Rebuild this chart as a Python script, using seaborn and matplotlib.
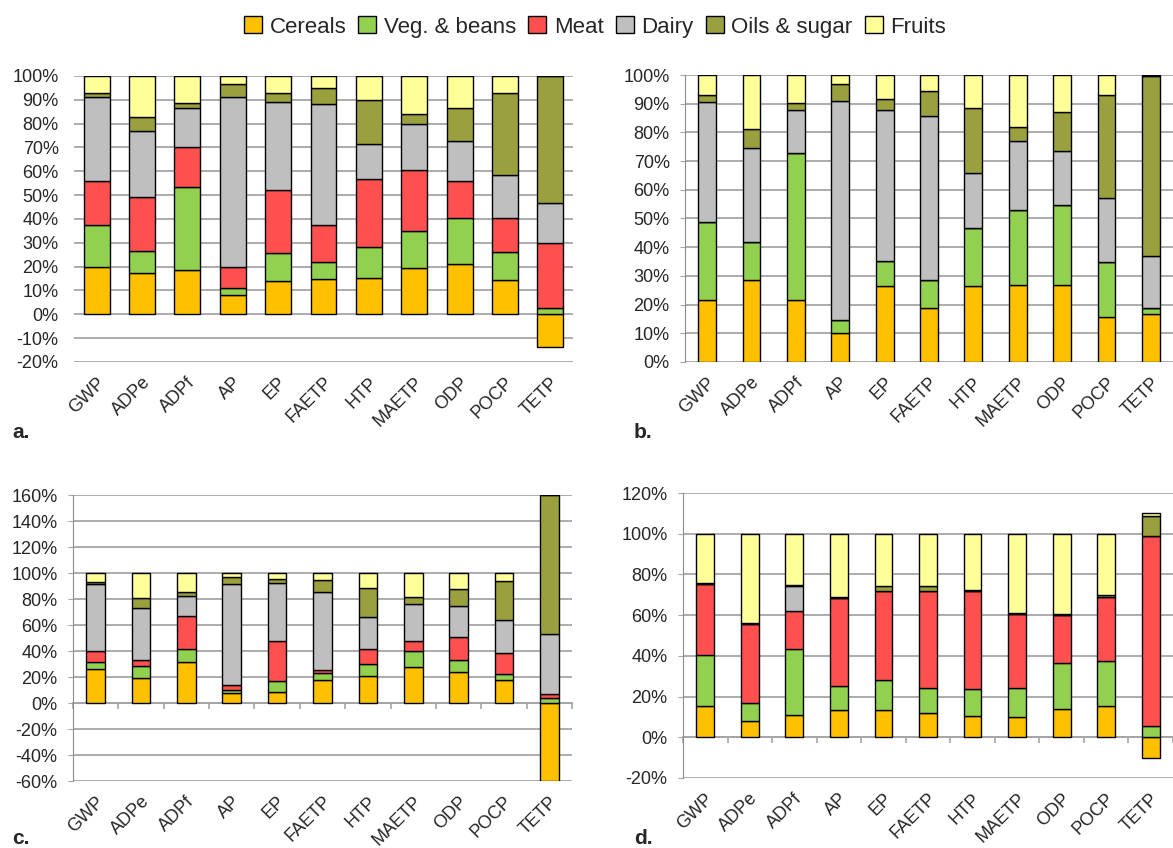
import numpy as np
import pandas as pd
import matplotlib
matplotlib.use("Agg")
import matplotlib.pyplot as plt
from matplotlib.patches import Patch
from matplotlib.ticker import PercentFormatter, MultipleLocator
from matplotlib.transforms import ScaledTranslation
import seaborn as sns

categories = ["GWP", "ADPe", "ADPf", "AP", "EP", "FAETP", "HTP", "MAETP", "ODP", "POCP", "TETP"]
groups = ["Cereals", "Veg. & beans", "Meat", "Dairy", "Oils & sugar", "Fruits"]
colors = ["#FFC000", "#92D050", "#FF5050", "#BFBFBF", "#9BA03F", "#FFFF99"]

# panel a (share in %)
a_cereals = [20.0, 17.2, 18.5, 8.0, 14.1, 15.0, 15.4, 19.3, 21.1, 14.3, -13.6]
a_veg = [17.6, 9.2, 35.1, 3.2, 11.6, 6.8, 12.9, 15.7, 19.5, 12.0, 2.8]
a_meat = [18.3, 22.8, 16.4, 8.5, 26.6, 15.8, 28.5, 25.6, 15.5, 14.0, 27.1]
a_dairy = [35.1, 27.9, 16.4, 71.3, 36.8, 50.7, 14.5, 19.3, 16.6, 18.0, 16.7]
a_oils = [2.0, 5.7, 2.1, 5.6, 3.8, 6.7, 18.6, 4.0, 13.9, 34.7, 53.4]
a_fruits = [7.0, 17.2, 11.5, 3.4, 7.1, 5.0, 10.1, 16.1, 13.4, 7.0, 0.0]

# panel b
b_cereals = [21.7, 28.6, 21.5, 10.0, 26.4, 18.9, 26.4, 26.9, 26.7, 15.7, 16.8]
b_veg = [27.0, 13.1, 51.4, 4.6, 8.7, 9.8, 20.2, 26.2, 28.1, 19.1, 2.0]
b_meat = [0, 0, 0, 0, 0, 0, 0, 0, 0, 0, 0]
b_dairy = [41.9, 32.9, 15.0, 76.3, 52.6, 57.1, 19.3, 23.9, 18.7, 22.2, 18.2]
b_oils = [2.5, 6.7, 2.2, 6.0, 4.1, 8.7, 22.5, 4.9, 13.7, 36.0, 62.8]
b_fruits = [6.9, 18.7, 9.9, 3.1, 8.2, 5.5, 11.6, 18.1, 12.8, 7.0, 0.2]

# panel c
c_cereals = [26.2, 19.2, 31.3, 7.9, 8.2, 17.9, 20.5, 27.9, 23.6, 17.9, -60.0]
c_veg = [5.3, 9.5, 10.0, 2.4, 8.5, 5.4, 9.8, 11.8, 9.7, 4.2, 4.1]
c_meat = [8.5, 4.6, 25.6, 3.8, 31.2, 2.3, 11.2, 8.0, 17.5, 16.1, 3.1]
c_dairy = [51.3, 40.0, 15.2, 77.7, 44.4, 60.0, 24.4, 28.7, 23.6, 25.6, 45.6]
c_oils = [2.0, 7.2, 3.0, 5.1, 3.1, 9.0, 22.3, 5.1, 13.3, 30.0, 107.2]
c_fruits = [6.7, 19.5, 14.9, 3.1, 4.6, 5.4, 11.8, 18.5, 12.3, 6.2, 0.0]

# panel d
d_cereals = [15.5, 7.9, 10.8, 13.6, 13.4, 11.8, 10.3, 10.1, 14.1, 15.4, -10.0]
d_veg = [24.9, 8.8, 32.4, 11.6, 14.9, 12.6, 13.4, 14.0, 22.2, 21.9, 5.7]
d_meat = [34.9, 38.8, 19.0, 43.2, 43.7, 47.6, 48.0, 36.5, 23.6, 31.8, 93.0]
d_dairy = [0, 0, 11.9, 0, 0, 0, 0, 0, 0, 0, 0]
d_oils = [0.5, 0.6, 0.7, 0.7, 2.1, 2.3, 0.8, 0.6, 0.8, 0.6, 9.8]
d_fruits = [24.2, 43.9, 25.2, 30.9, 25.9, 25.7, 27.5, 38.8, 39.3, 30.3, 1.6]

sns.set_style("white")
plt.rcParams['font.family'] = ['Liberation Sans', 'DejaVu Sans']
plt.rcParams['axes.unicode_minus'] = False

GRID = "#A6A6A6"


def make_df(series):
    rows = []
    for g, vals in zip(groups, series):
        for cat, v in zip(categories, vals):
            rows.append({"category": cat, "group": g, "value": v})
    return pd.DataFrame(rows)


def draw_panel(ax, df, width, ymin, ymax, step, spine=True, ticks0=False):
    wide = df.pivot(index="category", columns="group", values="value").loc[categories, groups]
    pos_base = np.zeros(len(categories))
    neg_base = np.zeros(len(categories))
    for g, c in zip(groups, colors):
        vals = wide[g].values.astype(float)
        bottom = np.where(vals >= 0, pos_base, neg_base)
        sns.barplot(x=categories, y=vals, bottom=bottom, color=c, width=width,
                    edgecolor="black", linewidth=1.0, ax=ax, saturation=1)
        pos_base += np.clip(vals, 0, None)
        neg_base += np.clip(vals, None, 0)

    ax.set_axisbelow(True)
    ax.set_xlim(-0.5, len(categories) - 0.5)
    ax.set_ylim(ymin, ymax)
    ax.yaxis.set_major_locator(MultipleLocator(step))
    ax.yaxis.set_major_formatter(PercentFormatter(decimals=0))
    ax.grid(axis="y", color=GRID, linewidth=1.3)
    ax.grid(axis="x", visible=False)
    for s in ["top", "right", "bottom"]:
        ax.spines[s].set_visible(False)
    ax.spines["left"].set_visible(spine)
    ax.spines["left"].set_color("#8C8C8C")
    ax.set_xlabel("")
    ax.set_ylabel("")
    if spine:
        ax.tick_params(axis="y", labelsize=13, length=3.5, color=GRID, left=True, pad=7.5)
    else:
        ax.tick_params(axis="y", labelsize=13, length=0, left=False, pad=11)
    ax.tick_params(axis="x", labelsize=13, length=0, pad=13)
    ax.set_xticks(range(len(categories)))
    ax.set_xticklabels(categories, rotation=45, ha="right", va="center",
                       rotation_mode="anchor")
    shift = ScaledTranslation(4 / 72, 0, ax.figure.dpi_scale_trans)
    for lab in ax.get_xticklabels():
        lab.set_transform(lab.get_transform() + shift)
    if ticks0:
        frac = (0 - ymin) / (ymax - ymin)
        sec = ax.secondary_xaxis(frac)
        sec.set_xticks(np.arange(-0.5, len(categories), 1.0))
        sec.tick_params(bottom=True, length=4, color=GRID, labelbottom=False, width=1.2)
        sec.spines["bottom"].set_color(GRID)
        sec.spines["bottom"].set_linewidth(1.3)


fig = plt.figure(figsize=(11.73, 8.48), dpi=100)
W, H = 1173, 848


def add_ax(left, right, top, bottom):
    return fig.add_axes([left / W, 1 - bottom / H, (right - left) / W, (bottom - top) / H])


ax_a = add_ax(74, 573, 76, 362)
ax_b = add_ax(685, 1173, 75, 362)
ax_c = add_ax(73, 572, 495, 781)
ax_d = add_ax(683, 1173, 493, 778)

draw_panel(ax_a, make_df([a_cereals, a_veg, a_meat, a_dairy, a_oils, a_fruits]), 0.57, -20, 100, 10, spine=False)
draw_panel(ax_b, make_df([b_cereals, b_veg, b_meat, b_dairy, b_oils, b_fruits]), 0.40, 0, 100, 10)
draw_panel(ax_c, make_df([c_cereals, c_veg, c_meat, c_dairy, c_oils, c_fruits]), 0.41, -60, 160, 20, ticks0=True)
draw_panel(ax_d, make_df([d_cereals, d_veg, d_meat, d_dairy, d_oils, d_fruits]), 0.40, -20, 120, 20, ticks0=True)

for txt, x, y in [("a.", 12, 432), ("b.", 634, 432), ("c.", 12, 838), ("d.", 634, 838)]:
    fig.text(x / W, 1 - y / H, txt, fontsize=15, fontweight="bold", va="center", ha="left")

handles = [Patch(facecolor=c, edgecolor="black", linewidth=1.0, label=g) for g, c in zip(groups, colors)]
fig.legend(handles=handles, loc="center", bbox_to_anchor=(595 / W, 1 - 27 / H), ncol=6,
           frameon=False, fontsize=16, handlelength=0.8, handleheight=0.8,
           handletextpad=0.35, columnspacing=0.55, borderaxespad=0)

fig.savefig("out.png", dpi=100)
